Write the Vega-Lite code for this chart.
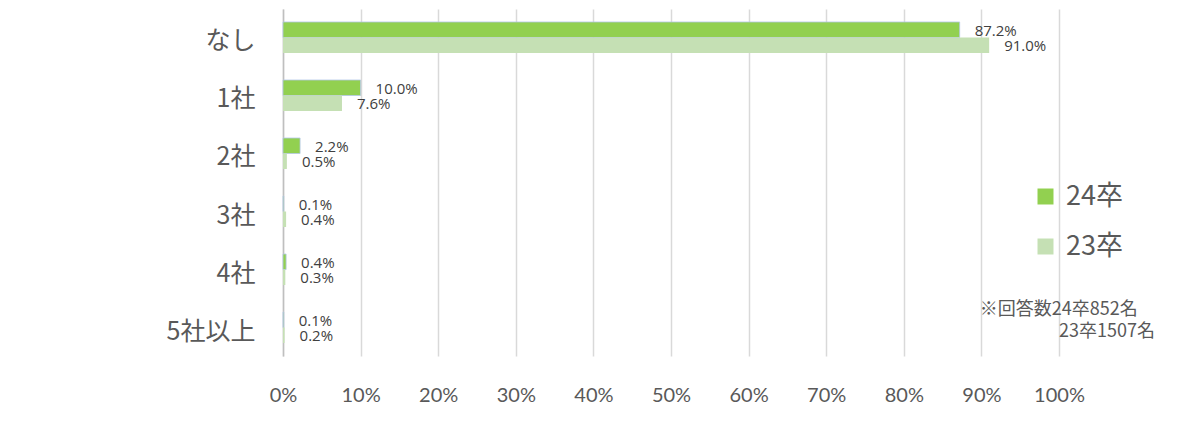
{
  "$schema": "https://vega.github.io/schema/vega-lite/v6.json",
  "width": 776,
  "height": 347,
  "autosize": "none",
  "padding": {"left": 283, "top": 9, "right": 141, "bottom": 73},
  "background": "white",
  "config": {
    "view": {"stroke": null},
    "font": "Noto Sans CJK JP"
  },
  "datasets": {
    "bars": [
      {"cat": "なし", "series": "24卒", "value": 0.872},
      {"cat": "なし", "series": "23卒", "value": 0.910},
      {"cat": "1社", "series": "24卒", "value": 0.100},
      {"cat": "1社", "series": "23卒", "value": 0.076},
      {"cat": "2社", "series": "24卒", "value": 0.022},
      {"cat": "2社", "series": "23卒", "value": 0.005},
      {"cat": "3社", "series": "24卒", "value": 0.001},
      {"cat": "3社", "series": "23卒", "value": 0.004},
      {"cat": "4社", "series": "24卒", "value": 0.004},
      {"cat": "4社", "series": "23卒", "value": 0.003},
      {"cat": "5社以上", "series": "24卒", "value": 0.001},
      {"cat": "5社以上", "series": "23卒", "value": 0.002}
    ],
    "note1": [{"t": "※回答数24卒852名"}],
    "note2": [{"t": "23卒1507名"}]
  },
  "layer": [
    {
      "data": {"name": "bars"},
      "mark": {"type": "bar", "strokeWidth": 0.8},
      "encoding": {
        "y": {
          "field": "cat", "type": "nominal",
          "sort": ["なし", "1社", "2社", "3社", "4社", "5社以上"],
          "scale": {"paddingInner": 0.466, "paddingOuter": 0.224},
          "axis": {
            "title": null, "ticks": false, "domain": true, "domainColor": "#BFBFBF", "domainWidth": 1.5,
            "labelFontSize": 25, "labelColor": "#595959", "labelPadding": 28, "labelOffset": 4,
            "labelFont": "Noto Sans CJK JP"
          }
        },
        "x": {
          "field": "value", "type": "quantitative",
          "scale": {"domain": [0, 1], "nice": false},
          "axis": {
            "title": null, "format": ".0%", "values": [0, 0.1, 0.2, 0.3, 0.4, 0.5, 0.6, 0.7, 0.8, 0.9, 1],
            "ticks": false, "domain": false, "grid": true, "gridColor": "#D9D9D9", "gridWidth": 1.5,
            "labelFontSize": 20, "labelColor": "#595959", "labelPadding": 29, "labelFlush": false,
            "labelFont": "Lato"
          }
        },
        "yOffset": {"field": "series", "type": "nominal", "sort": ["24卒", "23卒"], "scale": {"paddingInner": 0}},
        "stroke": {
          "condition": {"test": "datum.series === '24卒'", "value": "#B4C7E7"},
          "value": null
        },
        "color": {
          "field": "series", "type": "nominal",
          "sort": ["24卒", "23卒"],
          "scale": {"domain": ["24卒", "23卒"], "range": ["#92D050", "#C5E0B4"]},
          "legend": {
            "title": null, "orient": "none", "legendX": 749, "legendY": 174,
            "symbolType": "square", "symbolSize": 256, "symbolStrokeWidth": 0,
            "labelFontSize": 27, "labelColor": "#595959", "labelOffset": 7,
            "rowPadding": 22, "labelFont": "Noto Sans CJK JP"
          }
        }
      }
    },
    {
      "data": {"name": "bars"},
      "mark": {"type": "text", "align": "left", "dx": 15, "dy": 1, "fontSize": 15, "color": "#404040", "font": "Open Sans"},
      "encoding": {
        "y": {"field": "cat", "type": "nominal", "sort": ["なし", "1社", "2社", "3社", "4社", "5社以上"]},
        "x": {"field": "value", "type": "quantitative"},
        "yOffset": {"field": "series", "type": "nominal", "sort": ["24卒", "23卒"]},
        "text": {"field": "value", "type": "quantitative", "format": ".1%"}
      }
    },
    {
      "data": {"name": "note1"},
      "mark": {"type": "text", "align": "left", "dy": -18, "fontSize": 18, "color": "#595959", "font": "Noto Sans CJK JP"},
      "encoding": {
        "x": {"datum": 0.898, "type": "quantitative"},
        "y": {"datum": "5社以上", "type": "nominal"},
        "text": {"field": "t", "type": "nominal"}
      }
    },
    {
      "data": {"name": "note2"},
      "mark": {"type": "text", "align": "left", "dy": 4, "fontSize": 18, "color": "#595959", "font": "Noto Sans CJK JP"},
      "encoding": {
        "x": {"datum": 1.0, "type": "quantitative"},
        "y": {"datum": "5社以上", "type": "nominal"},
        "text": {"field": "t", "type": "nominal"}
      }
    }
  ]
}
